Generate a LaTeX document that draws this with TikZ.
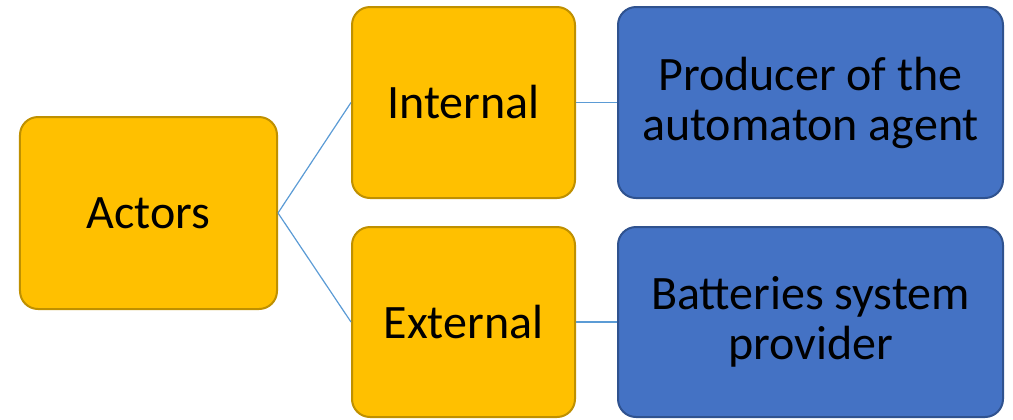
\documentclass[tikz,border=0pt]{standalone}
\usepackage{fontspec}
\setmainfont{Carlito}
\definecolor{goldfill}{HTML}{FFC000}
\definecolor{golddraw}{HTML}{BF9000}
\definecolor{bluefill}{HTML}{4472C4}
\definecolor{bluedraw}{HTML}{2F528F}
\definecolor{linkblue}{HTML}{5B9BD5}
\begin{document}
\begin{tikzpicture}[x=1bp,y=-1bp,
  box/.style={rounded corners=18bp, line width=2bp, inner sep=0pt, align=center,
    font=\fontsize{48bp}{50bp}\selectfont},
  gold/.style={box, fill=goldfill, draw=golddraw},
  blue/.style={box, fill=bluefill, draw=bluedraw},
  link/.style={draw=linkblue, line width=1.2bp}]
  \useasboundingbox (0,0) rectangle (1013,419);
  % left column
  \node[gold, minimum width=257bp, minimum height=192bp] (actors) at (148.5,213) {Actors};
  % middle column
  \node[gold, minimum width=223bp, minimum height=191bp] (internal) at (463.5,102.5) {Internal};
  \node[gold, minimum width=223bp, minimum height=190bp] (external) at (463.5,322) {External};
  % right column
  \node[blue, minimum width=385bp, minimum height=191bp] (producer) at (810.5,102.5) {Producer of the\\automaton agent};
  \node[blue, minimum width=385bp, minimum height=190bp] (battery) at (810.5,322) {Batteries system\\provider};
  % connectors
  \draw[link] (actors.east) -- (internal.west);
  \draw[link] (actors.east) -- (external.west);
  \draw[link] (internal.east) -- (producer.west);
  \draw[link] (external.east) -- (battery.west);
\end{tikzpicture}
\end{document}
